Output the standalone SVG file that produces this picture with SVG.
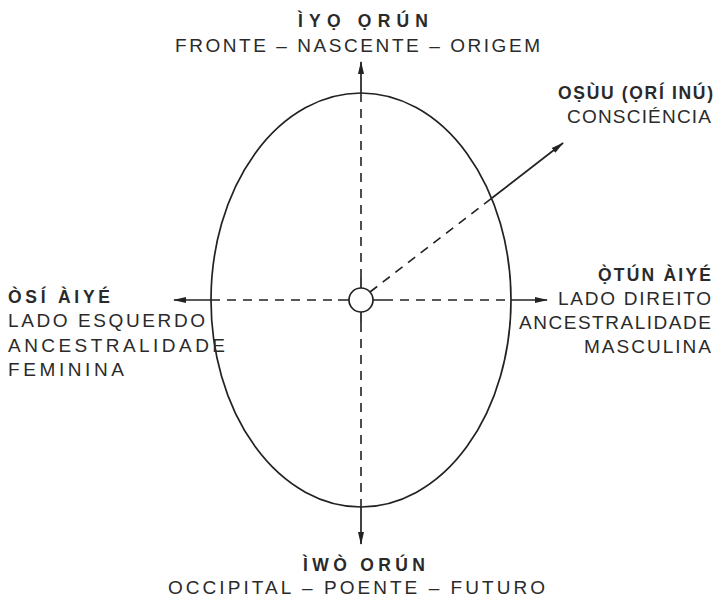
<svg xmlns="http://www.w3.org/2000/svg" width="721" height="598" viewBox="0 0 721 598">
<style>
.t{font-family:"Liberation Sans",Arial,sans-serif;font-size:19px;fill:#2a2a2a}
.b{font-weight:bold;font-size:17.5px}
.s{stroke:#222;stroke-width:1.7;fill:none}
.d{stroke:#222;stroke-width:1.6;fill:none;stroke-dasharray:9,7}
</style>
<defs>
<marker id="ah" markerWidth="13" markerHeight="8" refX="12" refY="4" orient="auto" markerUnits="userSpaceOnUse">
<path d="M0,1 L13,4 L0,7 Z" fill="#222"/>
</marker>
</defs>
<rect width="721" height="598" fill="#fff"/>
<g id="head">
<ellipse cx="361" cy="300" rx="150" ry="207" class="s" stroke-width="1.9"/>
<circle cx="361" cy="300" r="12" class="s"/>
</g>
<g id="connectors">
<path class="d" d="M361,93 V277 M361,323 V507 M211,300 H338 M384,300 H511 M370,292 L492,198"/>
<path class="s" d="M361,277 V288 M361,312 V323 M338,300 H349 M373,300 H384"/>
<path class="s" d="M361,93 V62" marker-end="url(#ah)"/>
<path class="s" d="M361,507 V544" marker-end="url(#ah)"/>
<path class="s" d="M211,300 H174" marker-end="url(#ah)"/>
<path class="s" d="M511,300 H547" marker-end="url(#ah)"/>
<path class="s" d="M492,198 L563,143" marker-end="url(#ah)"/>
</g>
<g id="top">
<text class="t b" x="298" y="27" textLength="130" lengthAdjust="spacing">ÌYỌ ỌRÚN</text>
<text class="t" x="175" y="52" textLength="365" lengthAdjust="spacing">FRONTE – NASCENTE – ORIGEM</text>
</g>
<g id="diag">
<text class="t b" x="558" y="99" textLength="155" lengthAdjust="spacing">OṢÙU (ỌRÍ INÚ)</text>
<text class="t" x="567" y="123" textLength="144" lengthAdjust="spacing">CONSCIÉNCIA</text>
</g>
<g id="left">
<text class="t b" x="8" y="303" textLength="102" lengthAdjust="spacing">ÒSÍ ÀIYÉ</text>
<text class="t" x="8" y="327" textLength="197" lengthAdjust="spacing">LADO ESQUERDO</text>
<text class="t" x="8" y="352" textLength="217" lengthAdjust="spacing">ANCESTRALIDADE</text>
<text class="t" x="8" y="376" textLength="116" lengthAdjust="spacing">FEMININA</text>
</g>
<g id="right">
<text class="t b" x="598" y="281" textLength="113" lengthAdjust="spacing">Ọ̀TÚN ÀIYÉ</text>
<text class="t" x="558" y="305" textLength="153" lengthAdjust="spacing">LADO DIREITO</text>
<text class="t" x="519" y="329" textLength="192" lengthAdjust="spacing">ANCESTRALIDADE</text>
<text class="t" x="584" y="353" textLength="127" lengthAdjust="spacing">MASCULINA</text>
</g>
<g id="bottom">
<text class="t b" x="303" y="571" textLength="122" lengthAdjust="spacing">ÌWÒ ORÚN</text>
<text class="t" x="168" y="594" textLength="377" lengthAdjust="spacing">OCCIPITAL – POENTE – FUTURO</text>
</g>
</svg>
